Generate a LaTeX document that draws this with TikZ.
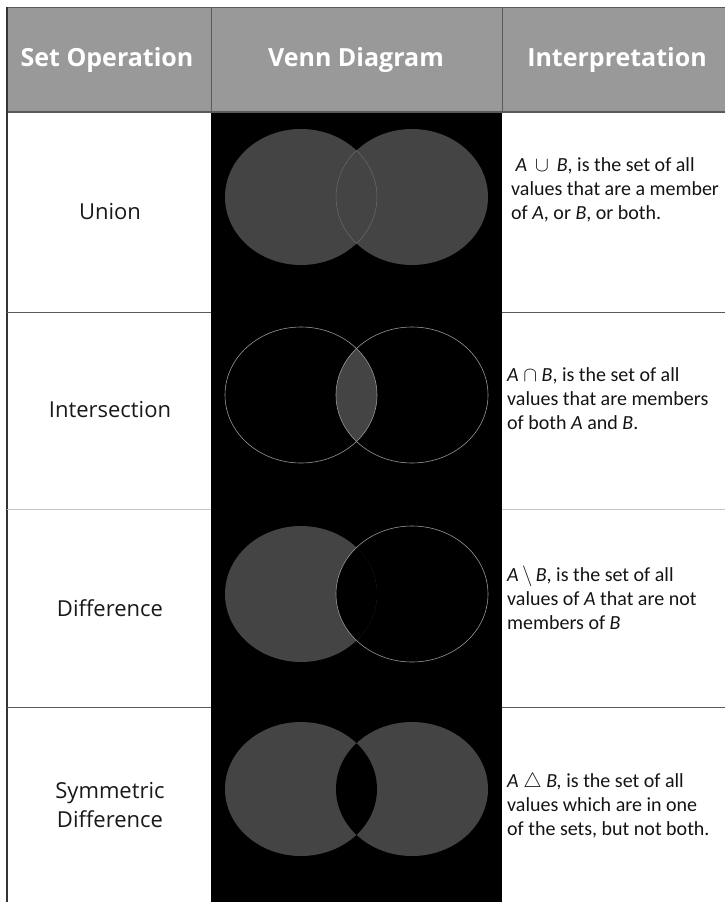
\documentclass[tikz,border=0pt]{standalone}
\usepackage{fontspec}
\setmainfont{Carlito}
\newfontfamily\hdfont{Open Sans}
\definecolor{hdrgray}{RGB}{153,153,153}
\definecolor{linegray}{RGB}{90,90,90}
\definecolor{lightline}{RGB}{200,200,200}
\definecolor{venn}{RGB}{68,68,68}
\definecolor{vennline}{RGB}{150,150,150}
\tikzset{
  hdr/.style={text=white,font=\hdfont\bfseries\fontsize{25}{28}\selectfont,anchor=center},
  oplabel/.style={text=black!90,font=\hdfont\fontsize{22}{29}\selectfont,align=center,anchor=center},
  interp/.style={text=black!92,font=\fontsize{20}{24}\selectfont,align=left,anchor=north west,inner sep=0pt},
  rowline/.style={draw=linegray,line width=1pt},
  rowlinelight/.style={draw=lightline,line width=1pt},
  vout/.style={draw=vennline,line width=0.6pt},
  lensline/.style={draw=venn!80!white,line width=0.5pt}
}
\begin{document}
\begin{tikzpicture}[x=1pt,y=-1pt]
\useasboundingbox (0,0) rectangle (725,902);
\fill[white] (0,0) rectangle (725,902);
% header
\fill[hdrgray] (7,7) rectangle (725,112);
\fill[black] (211,112) rectangle (502,902);
\draw[linegray,line width=1pt] (7,7) -- (725,7);
\draw[linegray,line width=1pt] (211,7) -- (211,112);
\draw[linegray,line width=1pt] (502,7) -- (502,112);
\draw[linegray,line width=1.2pt] (7,112) -- (725,112);
\draw[black!80,line width=1.6pt] (7,7) -- (7,902);
% row lines
\draw[rowline] (7,312) -- (211,312);
\draw[rowline] (502,312) -- (725,312);
\draw[rowlinelight] (7,509) -- (211,509);
\draw[rowlinelight] (502,509) -- (725,509);
\draw[rowline] (7,707) -- (211,707);
\draw[rowline] (502,707) -- (725,707);
% header texts
\node[hdr] (h1) at (107,60) {Set Operation};
\node[hdr] (h2) at (356,60) {Venn Diagram};
\node[hdr] (h3) at (617,60) {Interpretation};
% operation labels
\node[oplabel] (o1) at (110,212) {Union};
\node[oplabel] (o2) at (110,410) {Intersection};
\node[oplabel] (o3) at (110,608) {Difference};
\node[oplabel] (o4) at (110,805) {Symmetric\\Difference};
% Venn 1: union
\fill[venn] (301,197) ellipse [x radius=76,y radius=68];
\fill[venn] (412,197) ellipse [x radius=76,y radius=68];
\begin{scope}
\clip (301,197) ellipse [x radius=76,y radius=68];
\draw[lensline] (412,197) ellipse [x radius=76,y radius=68];
\end{scope}
\begin{scope}
\clip (412,197) ellipse [x radius=76,y radius=68];
\draw[lensline] (301,197) ellipse [x radius=76,y radius=68];
\end{scope}
% Venn 2: intersection
\begin{scope}
\clip (301,395) ellipse [x radius=76,y radius=68];
\fill[venn] (412,395) ellipse [x radius=76,y radius=68];
\end{scope}
\draw[vout] (301,395) ellipse [x radius=76,y radius=68];
\draw[vout] (412,395) ellipse [x radius=76,y radius=68];
% Venn 3: difference
\fill[venn] (301,594) ellipse [x radius=76,y radius=68];
\begin{scope}
\clip (301,594) ellipse [x radius=76,y radius=68];
\fill[black] (412,594) ellipse [x radius=76,y radius=68];
\end{scope}
\draw[vout] (412,594) ellipse [x radius=76,y radius=68];
% Venn 4: symmetric difference
\fill[venn] (301,789) ellipse [x radius=76,y radius=67];
\fill[venn] (412,789) ellipse [x radius=76,y radius=67];
\begin{scope}
\clip (301,789) ellipse [x radius=76,y radius=67];
\fill[black] (412,789) ellipse [x radius=76,y radius=67];
\end{scope}
% interpretations
\node[interp] (t1) at (511,157) {\ \textit{A} \,$\cup$\, \textit{B}, is the set of all\\values that are a member\\of \textit{A}, or \textit{B}, or both.};
\node[interp] (t2) at (507,367) {\textit{A} $\cap$ \textit{B}, is the set of all\\values that are members\\of both \textit{A} and \textit{B}.};
\node[interp] (t3) at (507,566) {\textit{A}\,$\setminus$\,\textit{B}, is the set of all\\values of \textit{A} that are not\\members of \textit{B}};
\node[interp] (t4) at (507,773) {\textit{A} $\triangle$ \textit{B,} is the set of all\\values which are in one\\of the sets, but not both.};
\end{tikzpicture}
\end{document}
